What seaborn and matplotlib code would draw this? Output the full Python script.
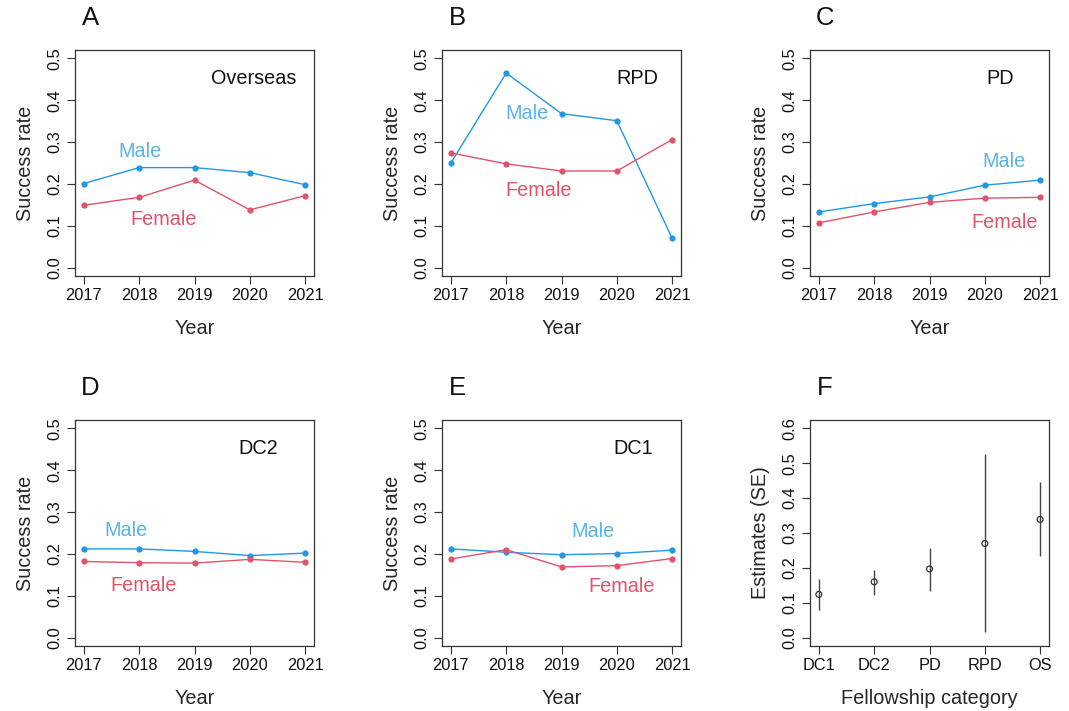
import numpy as np
import pandas as pd
import matplotlib
matplotlib.use("Agg")
import matplotlib.pyplot as plt
import seaborn as sns

sns.set_theme(style="white")
plt.rcParams['font.family'] = ['Liberation Sans', 'DejaVu Sans']

years = [2017, 2018, 2019, 2020, 2021]

# Panel data (success rates)
os_male = [0.201, 0.239, 0.239, 0.227, 0.198]
os_female = [0.149, 0.168, 0.209, 0.138, 0.172]
rpd_male = [0.250, 0.465, 0.368, 0.351, 0.070]
rpd_female = [0.274, 0.248, 0.231, 0.231, 0.306]
pd_male = [0.133, 0.153, 0.169, 0.197, 0.209]
pd_female = [0.107, 0.133, 0.156, 0.166, 0.168]
dc2_male = [0.212, 0.212, 0.206, 0.196, 0.202]
dc2_female = [0.182, 0.179, 0.178, 0.187, 0.180]
dc1_male = [0.212, 0.204, 0.198, 0.201, 0.209]
dc1_female = [0.188, 0.210, 0.169, 0.172, 0.189]

panel_letters = ["A", "B", "C", "D", "E", "F"]
panel_names = ["Overseas", "RPD", "PD", "DC2", "DC1"]

# label positions (data coords) for Male / Female / category name
male_label_pos = [(2018.02, 0.277), (2018.38, 0.368), (2020.34, 0.254), (2017.76, 0.256), (2019.57, 0.254)]
female_label_pos = [(2018.44, 0.114), (2018.59, 0.184), (2020.36, 0.107), (2018.08, 0.125), (2020.08, 0.121)]
name_label_pos = [(2020.07, 0.452), (2020.37, 0.452), (2020.27, 0.452), (2020.15, 0.451), (2020.30, 0.451)]

# Panel F
categories = ["DC1", "DC2", "PD", "RPD", "OS"]
estimates = [0.124, 0.160, 0.197, 0.270, 0.339]
ci_low = [0.078, 0.123, 0.133, 0.016, 0.235]
ci_high = [0.169, 0.195, 0.257, 0.526, 0.445]

MALE_LINE = "#2297E6"
FEMALE_LINE = "#DF536B"
MALE_TEXT = "#56B4E9"
FEMALE_TEXT = "#DF536B"
FRAME = "#333333"

fig = plt.figure(figsize=(10.69, 7.11), dpi=100)

W, H = 1069, 711
lefts = [75, 442, 810]
tops = [50, 420]
bw, bh = 239, 226

axes = []
for r in range(2):
    for c in range(3):
        l = lefts[c] / W
        b = 1 - (tops[r] + bh) / H
        axes.append(fig.add_axes([l, b, bw / W, bh / H]))

series = [(os_male, os_female), (rpd_male, rpd_female), (pd_male, pd_female),
          (dc2_male, dc2_female), (dc1_male, dc1_female)]

TXT = 14.3
LAB = 14.3


def style_axis(ax):
    for s in ax.spines.values():
        s.set_visible(True)
        s.set_color(FRAME)
        s.set_linewidth(0.9)
    ax.tick_params(axis='both', which='both', direction='out', length=6, width=0.8,
                   color=FRAME, labelsize=11.8, labelcolor="#111111", pad=3,
                   bottom=True, left=True)
    for lab in ax.get_yticklabels():
        lab.set_rotation(90)
        lab.set_va('center')


for i, (m, f) in enumerate(series):
    ax = axes[i]
    df = pd.DataFrame({"Year": years * 2,
                       "rate": m + f,
                       "sex": ["Male"] * 5 + ["Female"] * 5})
    sns.lineplot(data=df, x="Year", y="rate", hue="sex",
                 palette={"Male": MALE_LINE, "Female": FEMALE_LINE},
                 marker="o", markersize=4.5, markeredgewidth=0, linewidth=1,
                 legend=False, ax=ax)
    ax.set_xlim(2017 - 0.16, 2021 + 0.16)
    ax.set_ylim(-0.02, 0.52)
    ax.set_xticks(years)
    ax.set_xticklabels([str(y) for y in years])
    ax.set_yticks([0.0, 0.1, 0.2, 0.3, 0.4, 0.5])
    ax.set_yticklabels(["0.0", "0.1", "0.2", "0.3", "0.4", "0.5"])
    ax.set_xlabel("Year", fontsize=LAB, labelpad=11)
    ax.set_ylabel("Success rate", fontsize=LAB, labelpad=9)
    ax.text(*male_label_pos[i], "Male", color=MALE_TEXT, fontsize=TXT, ha="center", va="center")
    ax.text(*female_label_pos[i], "Female", color=FEMALE_TEXT, fontsize=TXT, ha="center", va="center")
    ax.text(*name_label_pos[i], panel_names[i], color="#111111", fontsize=TXT, ha="center", va="center")
    style_axis(ax)

# Panel F
ax = axes[5]
dff = pd.DataFrame({"pos": [1, 2, 3, 4, 5], "est": estimates})
lo = np.array(estimates) - np.array(ci_low)
hi = np.array(ci_high) - np.array(estimates)
ax.errorbar(dff["pos"], dff["est"], yerr=[lo, hi], fmt="none", ecolor="#444444",
            elinewidth=1, capsize=0)
sns.scatterplot(data=dff, x="pos", y="est", marker="o", s=18, facecolor="none",
                edgecolor="#333333", linewidth=0.9, ax=ax, zorder=3)
ax.set_xlim(0.84, 5.16)
ax.set_ylim(-0.024, 0.624)
ax.set_xticks([1, 2, 3, 4, 5])
ax.set_xticklabels(categories)
ax.set_yticks([0.0, 0.1, 0.2, 0.3, 0.4, 0.5, 0.6])
ax.set_yticklabels(["0.0", "0.1", "0.2", "0.3", "0.4", "0.5", "0.6"])
ax.set_xlabel("Fellowship category", fontsize=LAB, labelpad=11)
ax.set_ylabel("Estimates (SE)", fontsize=LAB, labelpad=9)
style_axis(ax)

for ax, letter in zip(axes, panel_letters):
    ax.text(0.063, 1.14, letter, transform=ax.transAxes, fontsize=18.5,
            ha="center", va="center", color="#111111")

fig.savefig("out.png", dpi=100, facecolor="white")
